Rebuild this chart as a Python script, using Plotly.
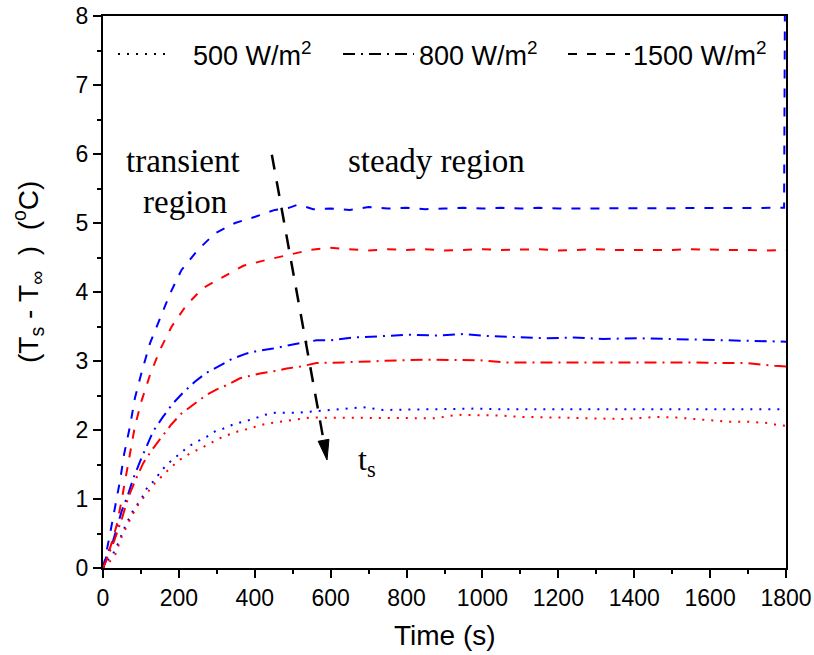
import plotly.graph_objects as go

# ---------------- data ----------------
t_500_blue = [0, 5, 27, 40, 58, 80, 102, 115, 137, 155, 177, 198, 225, 247, 273, 295, 317, 343, 370, 396,
              427, 453, 480, 510, 554, 607, 686, 738, 818, 897, 976, 1055, 1134, 1213, 1292, 1400, 1500, 1600, 1700, 1800]
v_500_blue = [0, 0.06, 0.21, 0.36, 0.60, 0.84, 1.01, 1.15, 1.28, 1.42, 1.54, 1.64, 1.76, 1.83, 1.90, 1.98, 2.02, 2.08, 2.12, 2.16,
              2.22, 2.25, 2.25, 2.25, 2.27, 2.29, 2.33, 2.29, 2.30, 2.31, 2.31, 2.30, 2.30, 2.30, 2.30, 2.30, 2.31, 2.30, 2.30, 2.30]

t_500_red = [0, 8, 32, 49, 71, 89, 115, 137, 159, 181, 203, 229, 256, 282, 308, 335, 361, 387, 414, 440,
             471, 493, 519, 546, 598, 677, 757, 818, 875, 932, 994, 1046, 1099, 1152, 1205, 1266, 1327, 1371, 1433, 1463,
             1512, 1565, 1591, 1648, 1701, 1754, 1780, 1800]
v_500_red = [0, 0.03, 0.19, 0.45, 0.70, 0.89, 1.08, 1.23, 1.35, 1.47, 1.57, 1.66, 1.73, 1.81, 1.88, 1.94, 1.99, 2.02, 2.07, 2.10,
             2.12, 2.14, 2.16, 2.18, 2.18, 2.17, 2.18, 2.18, 2.17, 2.22, 2.21, 2.21, 2.19, 2.18, 2.18, 2.17, 2.16, 2.16, 2.18, 2.19,
             2.18, 2.16, 2.14, 2.12, 2.12, 2.10, 2.07, 2.06]

t_800_blue = [0, 10, 27, 49, 65, 80, 98, 115, 132, 158, 185, 211, 242, 273, 308, 340, 379, 410, 448, 480,
              519, 563, 600, 660, 738, 809, 880, 950, 1020, 1099, 1169, 1240, 1318, 1407, 1486, 1565, 1626, 1697, 1758, 1800]
v_800_blue = [0, 0.19, 0.40, 0.82, 1.05, 1.30, 1.55, 1.76, 1.98, 2.19, 2.39, 2.54, 2.70, 2.83, 2.94, 3.03, 3.11, 3.15, 3.18, 3.22,
              3.26, 3.30, 3.30, 3.34, 3.36, 3.38, 3.37, 3.39, 3.36, 3.34, 3.33, 3.34, 3.32, 3.33, 3.32, 3.32, 3.31, 3.30, 3.29, 3.28]

t_800_red = [0, 12, 30, 50, 67, 86, 106, 130, 155, 180, 207, 242, 273, 300, 326, 361, 414, 458, 484, 520,
             563, 633, 708, 783, 849, 923, 994, 1064, 1143, 1222, 1292, 1371, 1477, 1547, 1617, 1697, 1771, 1800]
v_800_red = [0, 0.15, 0.40, 0.72, 1.03, 1.28, 1.52, 1.72, 1.90, 2.08, 2.24, 2.39, 2.51, 2.59, 2.65, 2.75, 2.82, 2.86, 2.89, 2.92,
             2.97, 2.98, 3.00, 3.01, 3.02, 3.01, 3.01, 2.98, 2.98, 2.99, 2.99, 2.98, 2.99, 2.98, 2.97, 2.97, 2.93, 2.92]

t_1500_blue = [0, 5, 18, 32, 45, 56, 71, 84, 102, 124, 150, 177, 207, 250, 295, 348, 401, 453, 490, 510,
               530, 554, 600, 650, 700, 750, 800, 850, 900, 950, 1000, 1050, 1100, 1150, 1200, 1250, 1300, 1350, 1400, 1450,
               1500, 1550, 1600, 1650, 1700, 1750, 1795, 1800]
v_1500_blue = [0, 0.12, 0.48, 0.89, 1.27, 1.66, 2.05, 2.46, 2.84, 3.26, 3.62, 3.98, 4.32, 4.61, 4.85, 5.00, 5.09, 5.19, 5.22, 5.26,
               5.24, 5.20, 5.21, 5.19, 5.23, 5.21, 5.22, 5.20, 5.21, 5.22, 5.21, 5.22, 5.21, 5.22, 5.21, 5.21, 5.22, 5.21, 5.22, 5.21,
               5.22, 5.21, 5.21, 5.22, 5.21, 5.21, 5.22, 12]

t_1500_red = [0, 8, 22, 36, 48, 58, 69, 84, 102, 124, 150, 181, 220, 264, 317, 370, 427, 488, 546, 598,
              650, 700, 750, 800, 850, 900, 950, 1000, 1050, 1100, 1150, 1200, 1250, 1300, 1350, 1400, 1450, 1500, 1550, 1600,
              1650, 1700, 1750, 1800]
v_1500_red = [0, 0.10, 0.35, 0.62, 0.95, 1.27, 1.61, 2.05, 2.43, 2.80, 3.16, 3.50, 3.81, 4.06, 4.22, 4.38, 4.46, 4.54, 4.61, 4.64,
              4.62, 4.60, 4.62, 4.61, 4.62, 4.60, 4.61, 4.62, 4.61, 4.61, 4.62, 4.60, 4.61, 4.62, 4.61, 4.61, 4.60, 4.61, 4.62, 4.61,
              4.61, 4.61, 4.60, 4.61]

legend_labels = ["500 W/m<sup>2</sup>", "800 W/m<sup>2</sup>", "1500 W/m<sup>2</sup>"]

# ---------------- styles ----------------
BLUE = "#0000FF"
RED = "#FF0000"
DOT = "2px,7px"
DASHDOT = "12px,6px,2px,6px"
DASH = "9px,10px"
LW = 2
SANS = "Liberation Sans, Arial"
NB = "\u00a0"

series = [
    (t_500_blue, v_500_blue, BLUE, DOT),
    (t_500_red, v_500_red, RED, DOT),
    (t_800_blue, v_800_blue, BLUE, DASHDOT),
    (t_800_red, v_800_red, RED, DASHDOT),
    (t_1500_blue, v_1500_blue, BLUE, DASH),
    (t_1500_red, v_1500_red, RED, DASH),
]

fig = go.Figure()
for t, v, c, d in series:
    fig.add_trace(go.Scatter(x=t, y=v, mode="lines", line=dict(color=c, width=LW, dash=d),
                             showlegend=False, hoverinfo="skip"))

# plot-area geometry in px (for paper-coordinate placement)
L, R, T, B = 103, 786, 16, 568
W, H = R - L, B - T


def px(xp):
    return (xp - L) / W


def py(yp):
    return (B - yp) / H


# custom legend (samples + labels)
leg_y = py(54)
leg_items = [(118, 170, 191, DOT), (343, 414, 417, DASHDOT), (568, 630, 631, DASH)]
for (x0, x1, xt, d), lab in zip(leg_items, legend_labels):
    fig.add_shape(type="line", xref="paper", yref="paper", x0=px(x0), x1=px(x1), y0=leg_y, y1=leg_y,
                  line=dict(color="black", width=2, dash=d))
    fig.add_annotation(xref="paper", yref="paper", x=px(xt), y=leg_y, xanchor="left", yanchor="middle",
                       text=lab, showarrow=False, font=dict(family=SANS, size=27, color="black"))

# dashed arrow toward t_s
fig.add_shape(type="line", xref="x", yref="y", x0=445, y0=5.99, x1=581, y1=1.86,
              line=dict(color="black", width=2.5, dash="15px,12px"))
fig.add_shape(type="path", xref="x", yref="y",
              path="M 590.4 1.565 L 595.5 1.865 L 567.0 1.837 Z",
              fillcolor="black", line=dict(color="black", width=1))

serif = dict(family="Liberation Serif, Times New Roman", size=33, color="black")
fig.add_annotation(x=211, y=5.90, text="transient", showarrow=False, font=serif,
                   xanchor="center", yanchor="middle")
fig.add_annotation(x=216, y=5.31, text="region", showarrow=False, font=serif,
                   xanchor="center", yanchor="middle")
fig.add_annotation(x=878, y=5.90, text="steady region", showarrow=False, font=serif,
                   xanchor="center", yanchor="middle")
fig.add_annotation(x=695, y=1.55, text="t<sub>s</sub>", showarrow=False,
                   font=dict(family="Liberation Serif, Times New Roman", size=32, color="black"),
                   xanchor="center", yanchor="middle")

# axis titles
fig.add_annotation(xref="paper", yref="paper", x=0.5, y=py(635), text="Time (s)", showarrow=False,
                   xanchor="center", yanchor="middle",
                   font=dict(family=SANS, size=28, color="black"))
ytitle = "(T<sub>s</sub>" + NB + "-" + NB + "T<sub>∞</sub>" + NB + NB + ")" + NB + NB + "(<sup>o</sup>C)"
fig.add_annotation(xref="paper", yref="paper", x=px(28), y=py(272), textangle=-90,
                   xanchor="center", yanchor="middle",
                   text=ytitle, showarrow=False,
                   font=dict(family=SANS, size=28, color="black"))

axis_common = dict(showline=True, linecolor="black", linewidth=2, mirror=True, showgrid=False, zeroline=False,
                   ticks="outside", ticklen=8, tickwidth=2, tickcolor="black", automargin=False,
                   tickfont=dict(family=SANS, size=23, color="black"))
fig.update_xaxes(range=[0, 1800], dtick=200, tick0=0,
                 minor=dict(ticks="outside", ticklen=4, tickwidth=2, dtick=100, tickcolor="black"), **axis_common)
fig.update_yaxes(range=[0, 8], dtick=1, tick0=0,
                 minor=dict(ticks="outside", ticklen=4, tickwidth=2, dtick=0.5, tickcolor="black"), **axis_common)

fig.update_layout(width=814, height=655, margin=dict(l=L, r=814 - R, t=T, b=655 - B),
                  plot_bgcolor="white", paper_bgcolor="white", showlegend=False)

fig.write_html("out.html")
